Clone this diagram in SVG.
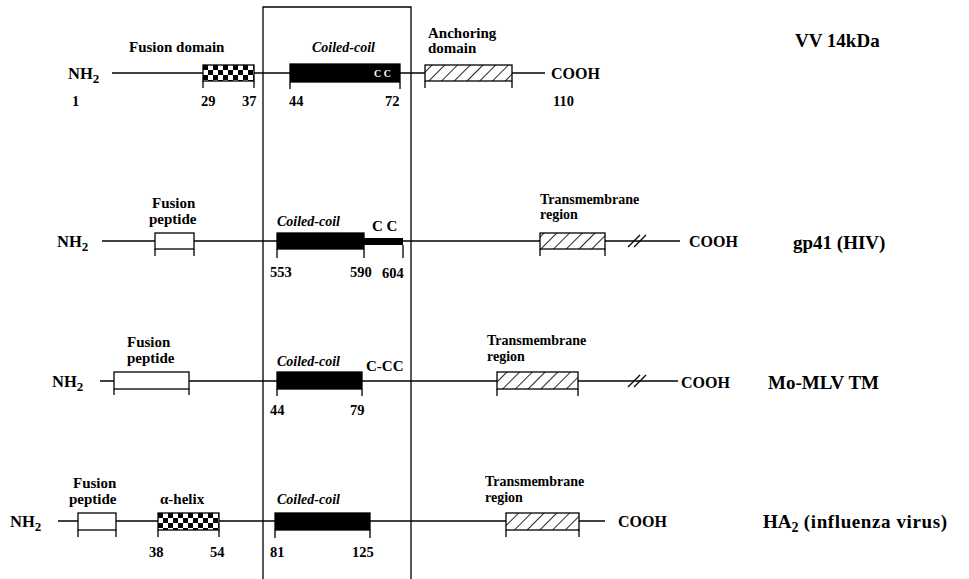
<svg xmlns="http://www.w3.org/2000/svg" width="969" height="579" viewBox="0 0 969 579">
<style>
text{font-family:"Liberation Serif","DejaVu Serif",serif;font-weight:bold;fill:#000}
.lbl{font-size:15px}
.tm{font-size:14px}
.num{font-size:14.5px}
.it{font-style:italic;font-size:14px}
.name{font-size:19px}
.nh{font-size:16.5px}
.cooh{font-size:16px}
.ln{stroke:#000;stroke-width:1.3;fill:none}
.box{stroke:#000;stroke-width:1.3}
.white{fill:#fff}
.blk{fill:#000}
.hat{fill:url(#hatch)}
.chk{fill:url(#check)}
</style>
<defs>
<pattern id="hatch" patternUnits="userSpaceOnUse" width="9" height="9" patternTransform="rotate(45)">
<rect width="9" height="9" fill="#fff"/>
<line x1="0" y1="0" x2="0" y2="9" stroke="#000" stroke-width="1.7"/>
</pattern>
<pattern id="check" patternUnits="userSpaceOnUse" x="203" y="65" width="10" height="10">
<rect width="10" height="10" fill="#fff"/>
<rect x="0" y="0" width="5" height="5" fill="#000"/>
<rect x="5" y="5" width="5" height="5" fill="#000"/>
</pattern>
<pattern id="check2" patternUnits="userSpaceOnUse" x="158" y="513" width="10" height="10">
<rect width="10" height="10" fill="#fff"/>
<rect x="0" y="0" width="5" height="5" fill="#000"/>
<rect x="5" y="5" width="5" height="5" fill="#000"/>
</pattern>
</defs>

<g id="frame">
<path class="ln" d="M263,579 V7 H411 V579" stroke-width="1.6"/>
</g>

<g id="connectors">
<line class="ln" x1="112" y1="73" x2="545" y2="73"/>
<line class="ln" x1="102" y1="241" x2="680" y2="241"/>
<line class="ln" x1="100" y1="381" x2="678" y2="381"/>
<line class="ln" x1="58" y1="521" x2="605" y2="521"/>
<line class="ln" x1="628" y1="247" x2="640" y2="235"/>
<line class="ln" x1="634" y1="247" x2="646" y2="235"/>
<line class="ln" x1="628" y1="387" x2="640" y2="375"/>
<line class="ln" x1="634" y1="387" x2="646" y2="375"/>
</g>

<g id="row-vv">
<text class="nh" x="68" y="79">NH<tspan font-size="13" dy="4">2</tspan></text>
<text class="num" x="72" y="106">1</text>
<text class="lbl" x="129" y="52">Fusion domain</text>
<rect class="box chk" x="203" y="65" width="51" height="16"/>
<path class="ln" d="M203,81 V88 M254,81 V88"/>
<text class="num" x="201" y="106">29</text>
<text class="num" x="242" y="106">37</text>
<text class="it" x="312" y="52">Coiled-coil</text>
<rect class="box blk" x="290" y="64" width="110" height="18"/>
<text x="374" y="77" font-size="10" style="fill:#fff">C C</text>
<path class="ln" d="M290,82 V89 M400,82 V89"/>
<text class="num" x="289" y="106">44</text>
<text class="num" x="385" y="106">72</text>
<text class="lbl" x="428" y="38">Anchoring</text>
<text class="lbl" x="428" y="53">domain</text>
<rect class="box hat" x="425" y="65" width="87" height="16"/>
<path class="ln" d="M425,81 V88 M512,81 V88"/>
<text class="cooh" x="551" y="79">COOH</text>
<text class="num" x="553" y="106">110</text>
<text class="name" x="795" y="47">VV 14kDa</text>
</g>

<g id="row-gp41">
<text class="nh" x="57" y="247">NH<tspan font-size="13" dy="4">2</tspan></text>
<text class="lbl" x="152" y="208">Fusion</text>
<text class="lbl" x="149" y="224">peptide</text>
<rect class="box white" x="155" y="233" width="39" height="16"/>
<path class="ln" d="M155,249 V256 M194,249 V256"/>
<text class="it" x="277" y="226">Coiled-coil</text>
<rect class="box blk" x="277" y="233" width="87" height="16"/>
<rect class="blk" x="364" y="238" width="39" height="7"/>
<path class="ln" d="M277,249 V258 M364,249 V258 M403,245 V258"/>
<text class="lbl" x="372" y="231">C C</text>
<text class="num" x="270" y="277">553</text>
<text class="num" x="350" y="277">590</text>
<text class="num" x="382" y="278">604</text>
<text class="tm" x="540" y="204">Transmembrane</text>
<text class="tm" x="540" y="219">region</text>
<rect class="box hat" x="540" y="233" width="65" height="16"/>
<path class="ln" d="M540,249 V256 M605,249 V256"/>
<text class="cooh" x="689" y="247">COOH</text>
<text class="name" x="793" y="249">gp41 (HIV)</text>
</g>

<g id="row-momlv">
<text class="nh" x="52" y="387">NH<tspan font-size="13" dy="4">2</tspan></text>
<text class="lbl" x="127" y="347">Fusion</text>
<text class="lbl" x="127" y="363">peptide</text>
<rect class="box white" x="114" y="372" width="75" height="17"/>
<path class="ln" d="M114,389 V395 M189,389 V395"/>
<text class="it" x="277" y="366">Coiled-coil</text>
<rect class="box blk" x="277" y="372" width="85" height="17"/>
<path class="ln" d="M277,389 V396 M362,389 V396"/>
<text class="lbl" x="366" y="371">C-CC</text>
<text class="num" x="270" y="415">44</text>
<text class="num" x="350" y="415">79</text>
<text class="tm" x="487" y="345">Transmembrane</text>
<text class="tm" x="487" y="361">region</text>
<rect class="box hat" x="497" y="372" width="81" height="17"/>
<path class="ln" d="M497,389 V396 M578,389 V396"/>
<text class="cooh" x="681" y="388">COOH</text>
<text class="name" x="768" y="389">Mo-MLV TM</text>
</g>

<g id="row-ha2">
<text class="nh" x="10" y="527">NH<tspan font-size="13" dy="4">2</tspan></text>
<text class="lbl" x="73" y="488">Fusion</text>
<text class="lbl" x="69" y="504">peptide</text>
<text class="lbl" x="160" y="504">α-helix</text>
<rect class="box white" x="78" y="513" width="38" height="17"/>
<path class="ln" d="M78,530 V537 M116,530 V537"/>
<rect class="box" fill="url(#check2)" x="158" y="513" width="61" height="17"/>
<path class="ln" d="M158,530 V537 M219,530 V537"/>
<text class="num" x="149" y="557">38</text>
<text class="num" x="210" y="557">54</text>
<text class="it" x="277" y="504">Coiled-coil</text>
<rect class="box blk" x="275" y="513" width="95" height="17"/>
<path class="ln" d="M275,530 V538 M370,530 V538"/>
<text class="num" x="270" y="557">81</text>
<text class="num" x="352" y="557">125</text>
<text class="tm" x="485" y="486">Transmembrane</text>
<text class="tm" x="485" y="502">region</text>
<rect class="box hat" x="506" y="513" width="73" height="17"/>
<path class="ln" d="M506,530 V537 M579,530 V537"/>
<text class="cooh" x="618" y="527">COOH</text>
<text class="name" x="763" y="528" font-size="20.5">HA<tspan font-size="14" dy="4">2</tspan><tspan dy="-4" letter-spacing="0.6"> (influenza virus)</tspan></text>
</g>
</svg>
